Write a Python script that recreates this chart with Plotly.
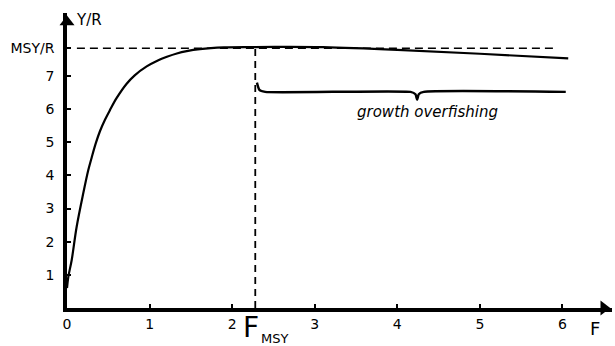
import plotly.graph_objects as go

# ---- data ----
F_curve = [0.0, 0.016, 0.057, 0.117, 0.197, 0.258, 0.30, 0.35, 0.40, 0.46, 0.52, 0.60, 0.72, 0.82, 0.965, 1.1, 1.21, 1.33, 1.45, 1.61, 1.9, 2.28, 2.7, 3.1, 4.0, 5.0, 6.07]
YR_curve = [0.6, 0.94, 1.45, 2.45, 3.46, 4.16, 4.55, 4.98, 5.34, 5.68, 5.97, 6.33, 6.76, 7.02, 7.29, 7.47, 7.58, 7.68, 7.75, 7.81, 7.86, 7.87, 7.88, 7.87, 7.79, 7.67, 7.53]

MSY_R = 7.84
F_MSY = 2.28

x_tickvals = [0, 1, 2, 3, 4, 5, 6]
x_ticktext = ["0", "1", "2", "3", "4", "5", "6"]
y_tickvals = [1, 2, 3, 4, 5, 6, 7, MSY_R]
y_ticktext = ["1", "2", "3", "4", "5", "6", "7", "MSY/R"]

# brace marking the growth-overfishing region
brace_F = [2.30, 2.33, 2.40, 4.16, 4.22, 4.24, 4.26, 4.32, 6.04]
brace_Y = [6.80, 6.58, 6.52, 6.52, 6.45, 6.28, 6.45, 6.52, 6.52]

FONT = "DejaVu Sans"

fig = go.Figure()

# MSY/R dashed reference line
fig.add_trace(go.Scatter(x=[0.12, 5.92], y=[MSY_R, MSY_R], mode="lines",
                         line=dict(color="black", width=1.5, dash="8px,5px"),
                         hoverinfo="skip"))
# F_MSY dashed vertical line
fig.add_trace(go.Scatter(x=[F_MSY, F_MSY], y=[0, MSY_R], mode="lines",
                         line=dict(color="black", width=1.8, dash="7px,5px"),
                         hoverinfo="skip"))
# yield-per-recruit curve
fig.add_trace(go.Scatter(x=F_curve, y=YR_curve, mode="lines",
                         line=dict(color="black", width=2.2, shape="spline", smoothing=1.0),
                         hoverinfo="skip"))
# brace
fig.add_trace(go.Scatter(x=brace_F, y=brace_Y, mode="lines",
                         line=dict(color="black", width=2.4, shape="spline", smoothing=0.5),
                         hoverinfo="skip"))
# axis arrowheads
fig.add_trace(go.Scatter(x=[6.5], y=[0], mode="markers", cliponaxis=False,
                         marker=dict(symbol="triangle-right", size=13, color="black"),
                         hoverinfo="skip"))
fig.add_trace(go.Scatter(x=[0], y=[8.63], mode="markers", cliponaxis=False,
                         marker=dict(symbol="triangle-up", size=13, color="black"),
                         hoverinfo="skip"))

fig.update_xaxes(range=[0, 6.6], showgrid=False, zeroline=False,
                 showline=True, linecolor="black", linewidth=3.5,
                 ticks="inside", ticklen=4, tickwidth=2, tickcolor="black",
                 tickvals=x_tickvals, ticktext=x_ticktext,
                 tickfont=dict(family=FONT, size=14, color="black"),
                 ticklabelstandoff=0)
fig.update_yaxes(range=[0, 8.9], showgrid=False, zeroline=False,
                 showline=True, linecolor="black", linewidth=3.5,
                 ticks="inside", ticklen=4, tickwidth=2, tickcolor="black",
                 tickvals=y_tickvals, ticktext=y_ticktext,
                 tickfont=dict(family=FONT, size=14, color="black"),
                 ticklabelstandoff=6)

annotations = [
    dict(x=0.08, y=8.7, xref="x", yref="y", text="Y/R", showarrow=False,
         xanchor="left", yanchor="middle",
         font=dict(family=FONT, size=15, color="black")),
    dict(x=6.40, y=0, xref="x", yref="y", text="F", showarrow=False,
         xanchor="center", yanchor="top", yshift=-8,
         font=dict(family=FONT, size=18, color="black")),
    dict(x=F_MSY - 0.05, y=0, xref="x", yref="y", text="F", showarrow=False,
         xanchor="center", yanchor="top", yshift=-1,
         font=dict(family=FONT, size=28, color="black")),
    dict(x=F_MSY + 0.04, y=0, xref="x", yref="y", text="MSY", showarrow=False,
         xanchor="left", yanchor="top", yshift=-21,
         font=dict(family=FONT, size=13, color="black")),
    dict(x=4.36, y=5.92, xref="x", yref="y", text="growth overfishing", showarrow=False,
         xanchor="center", yanchor="middle",
         font=dict(family=FONT, size=15, color="black", style="italic")),
]

fig.update_layout(width=615, height=346,
                  margin=dict(l=67, r=3, t=13, b=38),
                  plot_bgcolor="white", paper_bgcolor="white",
                  showlegend=False, annotations=annotations)

fig.write_html("out.html")
